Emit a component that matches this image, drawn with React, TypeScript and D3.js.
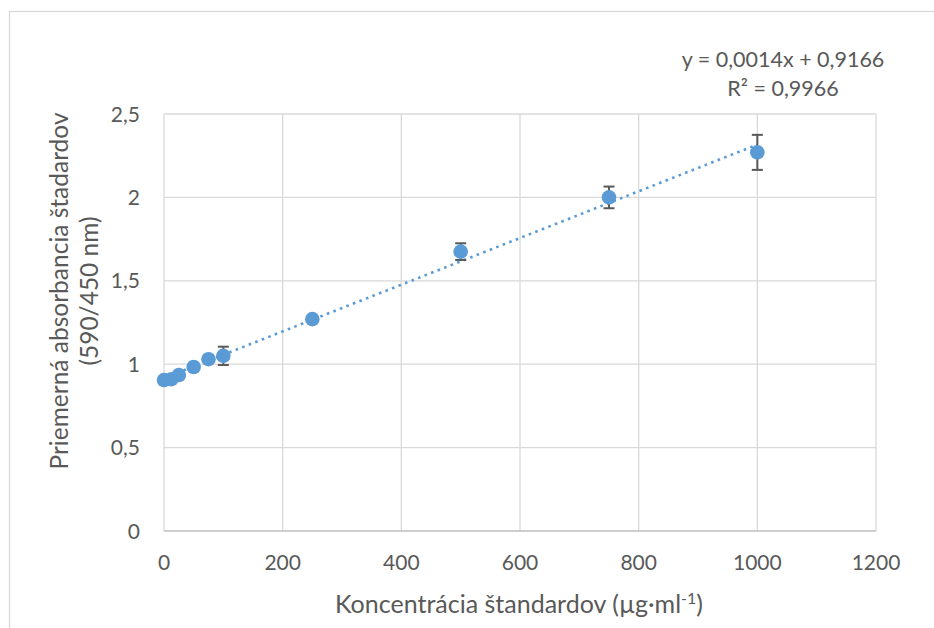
import React from 'react';
import * as d3 from 'd3';

// concentration of standards (µg/ml) and mean absorbance
const conc = [0, 12.5, 25, 50, 75, 100, 250, 500, 750, 1000];
const absorb = [0.905, 0.91, 0.935, 0.983, 1.03, 1.05, 1.27, 1.675, 2.0, 2.27];
const errs = [0.01, 0.01, 0.01, 0.01, 0.01, 0.055, 0.01, 0.05, 0.065, 0.105];

const xTicks = [0, 200, 400, 600, 800, 1000, 1200];
const yTicks = [0, 0.5, 1, 1.5, 2, 2.5];

const slope = 0.0014;
const intercept = 0.9166;

const fmt = (v: number) => String(v).replace('.', ',');

export default function App() {
  const width = 934;
  const height = 628;
  const margin = { top: 114, right: 58, bottom: 97, left: 164 };
  const font = 'Lato, "Open Sans", sans-serif';
  const textColor = '#595959';

  const x = d3.scaleLinear().domain([0, 1200]).range([margin.left, width - margin.right]);
  const y = d3.scaleLinear().domain([0, 2.5]).range([height - margin.bottom, margin.top]);

  const trend = d3.line<number>()
    .x(d => x(d))
    .y(d => y(slope * d + intercept));

  const points = conc.map((c, i) => ({ c, a: absorb[i], e: errs[i] }));

  return (
    <svg width={width} height={height} style={{ position: 'absolute', left: 0, top: 0, background: '#fff' }}>
      {/* chart area border */}
      <rect x={9.5} y={11.5} width={940} height={640} fill="#fff" stroke="#d9d9d9" strokeWidth={1.3} />

      {/* gridlines */}
      {yTicks.filter(t => t > 0).map(t => (
        <line key={'h' + t} x1={x(0)} x2={x(1200)} y1={y(t)} y2={y(t)} stroke="#d9d9d9" strokeWidth={1.3} />
      ))}
      {xTicks.map(t => (
        <line key={'v' + t} x1={x(t)} x2={x(t)} y1={y(0)} y2={y(2.5)} stroke="#d9d9d9" strokeWidth={1.3} />
      ))}
      <line x1={x(0)} x2={x(1200)} y1={y(0)} y2={y(0)} stroke="#bfbfbf" strokeWidth={1.5} />

      {/* tick labels */}
      {yTicks.map(t => (
        <text key={'yl' + t} x={140} y={y(t)} dy="0.36em" textAnchor="end" fontFamily={font} fontSize={21} fill={textColor}>
          {fmt(t)}
        </text>
      ))}
      {xTicks.map(t => (
        <text key={'xl' + t} x={x(t)} y={570} textAnchor="middle" fontFamily={font} fontSize={21} fill={textColor}>
          {t}
        </text>
      ))}

      {/* trendline */}
      <path d={trend([0, 1000]) || ''} fill="none" stroke="#5b9bd5" strokeWidth={2.6} strokeDasharray="2.6 4.4" />

      {/* error bars */}
      {points.map(p => (
        <g key={'e' + p.c} stroke="#595959" strokeWidth={2}>
          <line x1={x(p.c)} x2={x(p.c)} y1={y(p.a - p.e)} y2={y(p.a + p.e)} />
          <line x1={x(p.c) - 5.5} x2={x(p.c) + 5.5} y1={y(p.a - p.e)} y2={y(p.a - p.e)} />
          <line x1={x(p.c) - 5.5} x2={x(p.c) + 5.5} y1={y(p.a + p.e)} y2={y(p.a + p.e)} />
        </g>
      ))}

      {/* markers */}
      {points.map(p => (
        <circle key={'p' + p.c} cx={x(p.c)} cy={y(p.a)} r={7.3} fill="#5b9bd5" />
      ))}

      {/* equation */}
      <text x={783} y={67} textAnchor="middle" fontFamily={font} fontSize={21.5} fill={textColor}>
        y = 0,0014x + 0,9166
      </text>
      <text x={783} y={96} textAnchor="middle" fontFamily={font} fontSize={21.5} fill={textColor}>
        R² = 0,9966
      </text>

      {/* axis titles */}
      <text x={519} y={613} textAnchor="middle" fontFamily={font} fontSize={25} fill={textColor}>
        Koncentrácia štandardov (µg·ml<tspan dy={-9} fontSize={16}>-1</tspan><tspan dy={9}>)</tspan>
      </text>
      <text transform="translate(68,291) rotate(-90)" textAnchor="middle" fontFamily={font} fontSize={24.5} fill={textColor}>
        <tspan x={0} y={0}>Priemerná absorbancia štadardov</tspan>
        <tspan x={0} y={30}>(590/450 nm)</tspan>
      </text>
    </svg>
  );
}
